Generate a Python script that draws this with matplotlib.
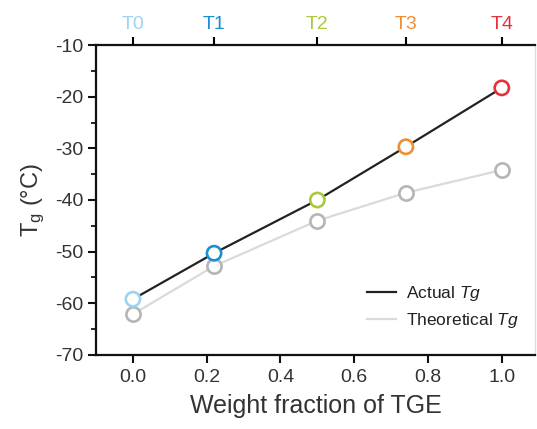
import matplotlib
matplotlib.use("Agg")
import matplotlib.pyplot as plt
from matplotlib.ticker import MultipleLocator

plt.rcParams['font.family'] = ['Liberation Sans', 'DejaVu Sans']
plt.rcParams['mathtext.fontset'] = 'custom'
plt.rcParams['mathtext.it'] = 'Liberation Sans:italic'
plt.rcParams['mathtext.rm'] = 'Liberation Sans'
plt.rcParams['axes.unicode_minus'] = False

# Data
weight_fraction = [0.0, 0.22, 0.50, 0.74, 1.0]
sample_labels = ['T0', 'T1', 'T2', 'T3', 'T4']
tg_actual = [-59.2, -50.3, -40.0, -29.7, -18.3]
tg_theoretical = [-62.1, -52.8, -44.0, -38.6, -34.2]
sample_colors = ['#9dd3f2', '#1b8fd2', '#a9c93b', '#f28c32', '#e8303c']

fig = plt.figure(figsize=(5.37, 4.29), dpi=100)
ax = fig.add_axes([0.1788, 0.1725, 0.8175, 0.7226])

ax.plot(weight_fraction, tg_theoretical, color='#dadada', lw=1.6, zorder=2,
        label='Theoretical $\\mathit{Tg}$')
ax.plot(weight_fraction, tg_actual, color='#222222', lw=1.6, zorder=2,
        label='Actual $\\mathit{Tg}$')
ax.scatter(weight_fraction, tg_theoretical, s=105, facecolors='white',
           edgecolors='#b5b5b5', linewidths=1.9, zorder=3)
ax.scatter(weight_fraction, tg_actual, s=105, facecolors='white',
           edgecolors=sample_colors, linewidths=1.9, zorder=4)

ax.set_xlim(-0.1, 1.09)
ax.set_ylim(-70, -10)
ax.yaxis.set_major_locator(MultipleLocator(10))
ax.yaxis.set_minor_locator(MultipleLocator(5))
ax.set_xticks([0.0, 0.2, 0.4, 0.6, 0.8, 1.0])
ax.set_xticklabels(['0.0', '0.2', '0.4', '0.6', '0.8', '1.0'])
ax.tick_params(axis='both', which='major', direction='out', length=6, width=1.5,
               labelsize=14, colors='#111111', pad=4)
ax.tick_params(axis='y', which='minor', direction='out', length=3.5, width=1.2)
ax.tick_params(axis='x', which='both', labelcolor='#333333')
ax.tick_params(axis='y', labelcolor='#333333', pad=3)

for s in ['left', 'bottom', 'top']:
    ax.spines[s].set_linewidth(1.6)
    ax.spines[s].set_color('#111111')
ax.spines['right'].set_color('#dddddd')
ax.spines['right'].set_linewidth(1.0)

ax.set_xlabel('Weight fraction of TGE', fontsize=18, color='#333333', labelpad=6)
ax.set_ylabel('T$_\\mathrm{g}$ (°C)', fontsize=17, color='#333333', labelpad=6)

axt = ax.twiny()
axt.set_xlim(ax.get_xlim())
axt.set_xticks(weight_fraction)
axt.set_xticklabels(sample_labels)
axt.tick_params(axis='x', direction='out', length=6, width=1.5, labelsize=14, pad=3)
for lbl, c in zip(axt.get_xticklabels(), sample_colors):
    lbl.set_color(c)
for s in ['left', 'right', 'bottom', 'top']:
    axt.spines[s].set_visible(False)

handles, labels = ax.get_legend_handles_labels()
leg = ax.legend(handles[::-1], labels[::-1], loc='lower right',
                bbox_to_anchor=(1.0, 0.03), frameon=False, fontsize=12.5,
                handlelength=1.7, handletextpad=0.6, labelspacing=0.45)
for t in leg.get_texts():
    t.set_color('#222222')

fig.savefig('out.png', dpi=100)
